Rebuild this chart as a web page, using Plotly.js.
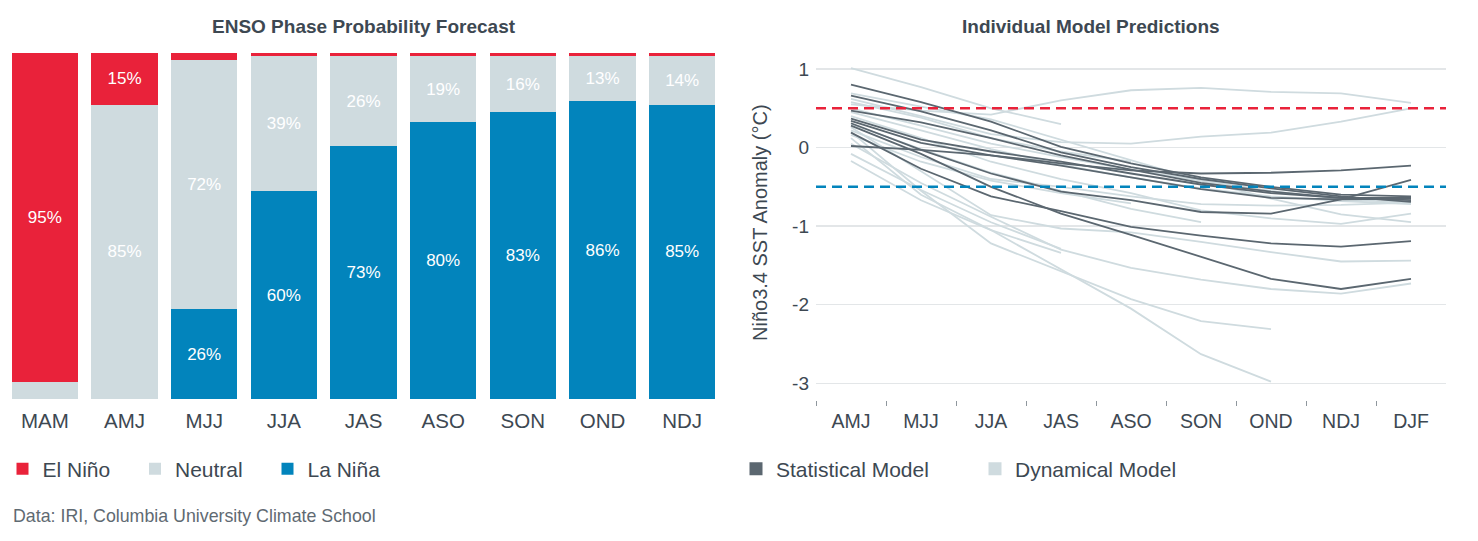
<!DOCTYPE html>
<html>
<head>
<meta charset="utf-8">
<script src="https://cdn.plot.ly/plotly-3.0.1.min.js"></script>
<style>
  html, body { margin: 0; padding: 0; background: #fff; }
  #chart { width: 1478px; height: 541px; }
</style>
</head>
<body>
<div id="chart"></div>
<script>
// ---------------- DATA ----------------
const seasons = ["MAM", "AMJ", "MJJ", "JJA", "JAS", "ASO", "SON", "OND", "NDJ"];
const elNino  = [95, 15, 2, 1, 1, 1, 1, 1, 1];
const neutral = [5, 85, 72, 39, 26, 19, 16, 13, 14];
const laNina  = [0, 0, 26, 60, 73, 80, 83, 86, 85];

const modelSeasons = ["AMJ", "MJJ", "JJA", "JAS", "ASO", "SON", "OND", "NDJ", "DJF"];

// Statistical models
const stat1 = [0.80, 0.58, 0.33, 0.01, -0.20, -0.38, -0.50, -0.60, -0.62];
const stat2 = [0.66, 0.46, 0.22, -0.06, -0.25, -0.40, -0.52, -0.62, -0.69];
const stat3 = [0.47, 0.32, 0.12, -0.10, -0.28, -0.45, -0.56, -0.64, -0.64];
const stat4 = [0.37, 0.10, -0.05, -0.18, -0.33, -0.47, -0.58, -0.64, -0.67];
const stat5 = [0.34, 0.06, -0.10, -0.23, -0.38, -0.53, -0.64, -0.66, -0.65];
const stat6 = [0.31, -0.03, -0.33, -0.56, -0.67, -0.82, -0.84, -0.66, -0.41];
const stat7 = [0.02, -0.03, -0.10, -0.20, -0.29, -0.33, -0.32, -0.29, -0.23];
const stat8 = [0.19, -0.27, -0.62, -0.81, -1.01, -1.12, -1.22, -1.26, -1.19];
const stat9 = [0.28, -0.08, -0.50, -0.84, -1.11, -1.39, -1.67, -1.80, -1.67];

// Dynamical models
const dyn1  = [1.01, 0.77, 0.50, 0.30, null, null, null, null, null];
const dyn2  = [0.55, 0.47, 0.42, 0.60, 0.73, 0.76, 0.71, 0.69, 0.57];
const dyn3  = [0.62, 0.40, 0.17, 0.07, 0.05, 0.14, 0.19, 0.33, 0.50];
const dyn4  = [0.69, 0.52, 0.36, 0.10, -0.16, -0.42, -0.65, -0.85, -0.95];
const dyn5  = [0.58, 0.38, 0.12, -0.05, -0.18, null, null, null, null];
const dyn6  = [0.50, 0.28, 0.05, -0.12, -0.28, -0.42, -0.55, -0.66, -0.70];
const dyn7  = [0.45, 0.22, -0.02, -0.22, -0.38, -0.52, -0.62, -0.68, -0.72];
const dyn8  = [0.40, 0.12, -0.18, -0.40, -0.58, -0.80, -0.90, -0.97, -0.84];
const dyn9  = [0.16, -0.18, -0.42, -0.58, -0.71, null, null, null, null];
const dyn10 = [0.30, -0.02, -0.32, -0.55, -0.78, -0.95, null, null, null];
const dyn11 = [0.22, -0.12, -0.40, -0.50, -0.62, -0.72, -0.74, -0.73, -0.70];
const dyn12 = [-0.08, -0.54, -0.95, -1.29, null, null, null, null, null];
const dyn13 = [-0.17, -0.67, -1.05, -1.34, null, null, null, null, null];
const dyn14 = [0.05, -0.45, -0.88, -1.30, -1.53, -1.68, -1.80, -1.86, -1.73];
const dyn15 = [0.26, -0.30, -0.86, -1.03, -1.08, -1.20, -1.33, -1.45, -1.44];
const dyn16 = [0.20, -0.55, -1.22, -1.58, -1.93, -2.21, -2.31, null, null];
const dyn17 = [0.12, -0.60, -1.05, -1.55, -2.05, -2.63, -2.98, null, null];

const statModels = [stat1, stat2, stat3, stat4, stat5, stat6, stat7, stat8, stat9];
const dynModels = [dyn1, dyn2, dyn3, dyn4, dyn5, dyn6, dyn7, dyn8, dyn9, dyn10,
                   dyn11, dyn12, dyn13, dyn14, dyn15, dyn16, dyn17];

const elNinoThreshold = 0.5;
const laNinaThreshold = -0.5;
const yTicks = [-3, -2, -1, 0, 1];

// ---------------- STYLE ----------------
const RED = "#e9223a", GREY = "#cfdbdf", BLUE = "#0284bc";
const DARK = "#5b6770", LIGHT = "#cfdbdf";
const TXT = "#3d4852";
const FONT = "Liberation Sans, Arial, sans-serif";
const W = 1478, H = 541;
const px = v => v / W;
const py = v => 1 - v / H;

function labels(vals) { return vals.map(v => v >= 10 ? v + "%" : ""); }

const barCommon = {
  type: "bar", x: seasons, xaxis: "x", yaxis: "y",
  textposition: "inside", insidetextanchor: "middle", textangle: 0,
  textfont: { color: "#ffffff", size: 17, family: FONT },
  hoverinfo: "skip", legend: "legend"
};

const traces = [
  Object.assign({}, barCommon, { name: "La Niña", y: laNina, text: labels(laNina), marker: { color: BLUE }, legendrank: 3 }),
  Object.assign({}, barCommon, { name: "Neutral", y: neutral, text: labels(neutral), marker: { color: GREY }, legendrank: 2 }),
  Object.assign({}, barCommon, { name: "El Niño", y: elNino, text: labels(elNino), marker: { color: RED }, legendrank: 1 })
];

dynModels.forEach((d, i) => traces.push({
  type: "scatter", mode: "lines", x: modelSeasons, y: d, xaxis: "x2", yaxis: "y2",
  line: { color: LIGHT, width: 1.8 }, showlegend: false, hoverinfo: "skip",
  name: "Dynamical " + (i + 1)
}));
statModels.forEach((d, i) => traces.push({
  type: "scatter", mode: "lines", x: modelSeasons, y: d, xaxis: "x2", yaxis: "y2",
  line: { color: DARK, width: 1.8 }, showlegend: false, hoverinfo: "skip",
  name: "Statistical " + (i + 1)
}));
// legend entries for the right chart
traces.push({ type: "scatter", mode: "markers", x: [null], y: [null], xaxis: "x2", yaxis: "y2",
  name: "Statistical Model", marker: { symbol: "square", size: 13, color: DARK }, legend: "legend2", legendrank: 1 });
traces.push({ type: "scatter", mode: "markers", x: [null], y: [null], xaxis: "x2", yaxis: "y2",
  name: "Dynamical Model", marker: { symbol: "square", size: 13, color: LIGHT }, legend: "legend2", legendrank: 2 });

const layout = {
  width: W, height: H,
  margin: { l: 0, r: 0, t: 0, b: 0 },
  paper_bgcolor: "#fff", plot_bgcolor: "#fff",
  font: { family: FONT, color: TXT, size: 19 },
  barmode: "stack", bargap: 0.17,
  showlegend: true,
  xaxis: {
    domain: [px(5), px(722)], type: "category", showgrid: false, zeroline: false,
    showline: false, ticks: "", tickfont: { size: 20.5, color: TXT }, ticklabelstandoff: 7,
    fixedrange: true
  },
  yaxis: {
    domain: [py(399), py(53)], range: [0, 100], visible: false, fixedrange: true
  },
  xaxis2: {
    domain: [px(816), px(1446)], type: "category", categoryarray: modelSeasons,
    range: [-0.5, 8.5], anchor: "y2", showgrid: false, zeroline: false, showline: false,
    ticks: "outside", tickson: "boundaries", ticklen: 5, tickwidth: 1, tickcolor: "#8f979d",
    tickfont: { size: 19.5, color: TXT }, ticklabelstandoff: 7, fixedrange: true
  },
  yaxis2: {
    domain: [py(400), py(53)], range: [-3.213, 1.204], anchor: "x2",
    tickvals: yTicks, ticktext: yTicks.map(String),
    showgrid: true, gridcolor: "#e3e6e8", gridwidth: 1.5, zeroline: false, showline: false,
    ticks: "", tickfont: { size: 19, color: TXT }, ticklabelstandoff: 6, fixedrange: true
  },
  legend: {
    orientation: "h", x: px(2.5), y: py(469), xanchor: "left", yanchor: "middle",
    traceorder: "normal",
    font: { size: 21, color: TXT }, entrywidth: 87.5, entrywidthmode: "pixels",
    bgcolor: "rgba(0,0,0,0)", itemclick: false, itemdoubleclick: false
  },
  legend2: {
    orientation: "h", x: px(736), y: py(469), xanchor: "left", yanchor: "middle",
    traceorder: "normal",
    font: { size: 21, color: TXT }, entrywidth: 194, entrywidthmode: "pixels",
    bgcolor: "rgba(0,0,0,0)", itemclick: false, itemdoubleclick: false
  },
  shapes: [
    { type: "line", xref: "x2 domain", yref: "y2", x0: 0, x1: 1, y0: elNinoThreshold, y1: elNinoThreshold,
      line: { color: RED, width: 2.5, dash: "10px,6px" } },
    { type: "line", xref: "x2 domain", yref: "y2", x0: 0, x1: 1, y0: laNinaThreshold, y1: laNinaThreshold,
      line: { color: BLUE, width: 2.5, dash: "10px,6px" } }
  ],
  annotations: [
    { text: "<b>ENSO Phase Probability Forecast</b>", xref: "paper", yref: "paper",
      x: px(364), y: py(27), xanchor: "center", yanchor: "middle", showarrow: false,
      font: { size: 19, color: TXT } },
    { text: "<b>Individual Model Predictions</b>", xref: "paper", yref: "paper",
      x: px(1091), y: py(27), xanchor: "center", yanchor: "middle", showarrow: false,
      font: { size: 19, color: TXT } },
    { text: "Niño3.4 SST Anomaly (°C)", xref: "paper", yref: "paper", textangle: -90,
      x: px(760), y: py(222), xanchor: "center", yanchor: "middle", showarrow: false,
      font: { size: 20, color: TXT } },
    { text: "Data: IRI, Columbia University Climate School", xref: "paper", yref: "paper",
      x: px(11), y: py(516), xanchor: "left", yanchor: "middle", showarrow: false,
      font: { size: 17.8, color: "#5f6a72" } }
  ]
};

Plotly.newPlot("chart", traces, layout, { staticPlot: true, displayModeBar: false });
</script>
</body>
</html>
